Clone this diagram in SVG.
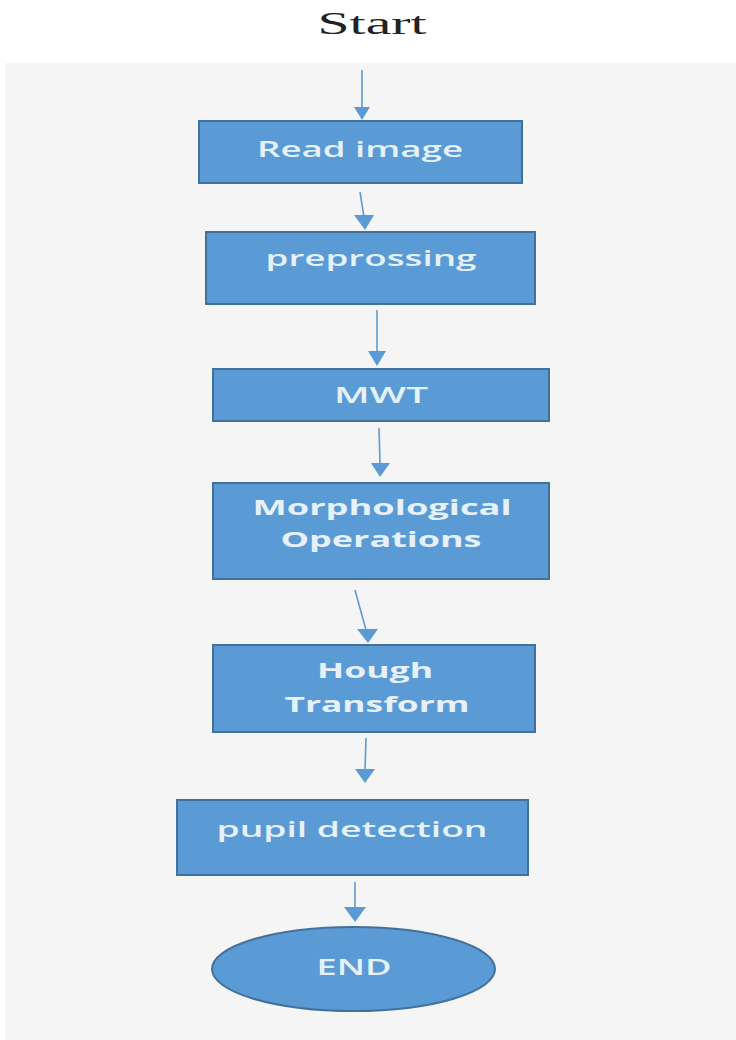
<svg xmlns="http://www.w3.org/2000/svg" width="736" height="1040" viewBox="0 0 736 1040">
<style>
.box{fill:#5b9bd5;stroke:#41719c;stroke-width:2}
.lbl{font-family:"Open Sans","Liberation Sans",sans-serif;font-size:22px;font-weight:600;fill:#e6f1fa;text-anchor:middle}
.b{font-weight:bold}
.con{stroke:#5b9bd5;stroke-width:1.6;fill:none}
.head{fill:#5b9bd5}
</style>
<rect x="0" y="0" width="736" height="1040" fill="#ffffff"/>
<rect x="5" y="63" width="731" height="977" fill="#f5f5f5"/>
<text x="372" y="34" font-family="Liberation Serif, serif" font-size="32" fill="#222" text-anchor="middle" textLength="109" lengthAdjust="spacingAndGlyphs">Start</text>
<g id="connectors">
<line class="con" x1="362" y1="70" x2="362" y2="108"/>
<polygon class="head" points="354,107 370,107 362,120"/>
<line class="con" x1="360" y1="192" x2="364" y2="217"/>
<polygon class="head" points="354,215 374,215 365,230"/>
<line class="con" x1="377" y1="310" x2="377" y2="352"/>
<polygon class="head" points="368,351 386,351 377,366"/>
<line class="con" x1="379" y1="428" x2="380" y2="464"/>
<polygon class="head" points="371,463 390,463 380,477"/>
<line class="con" x1="355" y1="590" x2="366" y2="630"/>
<polygon class="head" points="357,629 378,629 368,643"/>
<line class="con" x1="366" y1="738" x2="365" y2="770"/>
<polygon class="head" points="355,769 375,769 365,783"/>
<line class="con" x1="355" y1="882" x2="355" y2="908"/>
<polygon class="head" points="344,907 366,907 355,922"/>
</g>
<g id="read">
<rect class="box" x="199" y="121" width="323" height="62"/>
<text class="lbl" x="360" y="157" textLength="206" lengthAdjust="spacingAndGlyphs">Read image</text>
</g>
<g id="prep">
<rect class="box" x="206" y="232" width="329" height="72"/>
<text class="lbl" x="371" y="266" textLength="211" lengthAdjust="spacingAndGlyphs">preprossing</text>
</g>
<g id="mwt">
<rect class="box" x="213" y="369" width="336" height="52"/>
<text class="lbl" x="381" y="403" textLength="94" lengthAdjust="spacingAndGlyphs">MWT</text>
</g>
<g id="morph">
<rect class="box" x="213" y="483" width="336" height="96"/>
<text class="lbl b" x="382" y="515" textLength="259" lengthAdjust="spacingAndGlyphs">Morphological</text>
<text class="lbl b" x="381" y="547" textLength="201" lengthAdjust="spacingAndGlyphs">Operations</text>
</g>
<g id="hough">
<rect class="box" x="213" y="645" width="322" height="87"/>
<text class="lbl b" x="375" y="678" textLength="116" lengthAdjust="spacingAndGlyphs">Hough</text>
<text class="lbl b" x="377" y="712" textLength="185" lengthAdjust="spacingAndGlyphs">Transform</text>
</g>
<g id="pupil">
<rect class="box" x="177" y="800" width="351" height="75"/>
<text class="lbl" x="352" y="837" textLength="271" lengthAdjust="spacingAndGlyphs">pupil detection</text>
</g>
<g id="end">
<ellipse class="box" cx="353.5" cy="969" rx="141.5" ry="42"/>
<text class="lbl" x="354" y="975" textLength="75" lengthAdjust="spacingAndGlyphs">END</text>
</g>
</svg>
